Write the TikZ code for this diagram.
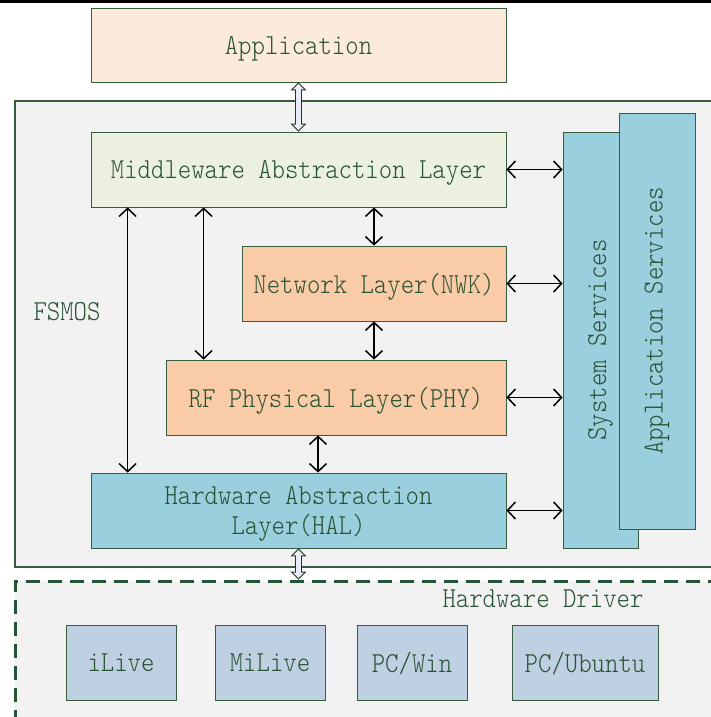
\documentclass[tikz,border=0pt]{standalone}
\usepackage{fontspec}
\usepackage{graphicx}
\newfontfamily\diagfont[FakeStretch=0.88]{lmmonolt10-regular.otf}
\usetikzlibrary{arrows.meta,positioning}
\definecolor{txtgreen}{RGB}{40,82,52}
\definecolor{edgegreen}{RGB}{56,92,62}
\definecolor{dashgreen}{RGB}{38,84,56}
\definecolor{appfill}{RGB}{252,234,219}
\definecolor{midfill}{RGB}{235,240,223}
\definecolor{orangefill}{RGB}{250,203,167}
\definecolor{bluefill}{RGB}{154,207,221}
\definecolor{grayfill}{RGB}{242,242,242}
\definecolor{drvfill}{RGB}{190,208,226}
\definecolor{hollowfill}{RGB}{232,237,245}

\begin{document}
\begin{tikzpicture}[x=1pt, y=-1pt,
  font=\diagfont\fontsize{29}{30}\selectfont, text=txtgreen,
  layer/.style={draw=edgegreen, line width=0.8pt, inner sep=0pt, text depth=0pt,
                minimum height=75pt, align=center, fill=#1},
  layer/.default=white,
  frame/.style={draw=edgegreen, line width=1.2pt, fill=grayfill, inner sep=0pt},
  dbl/.style={{Straight Barb[length=8pt,width=17pt]}-{Straight Barb[length=8pt,width=17pt]},
              line width=1.5pt, black},
  hollow/.style={draw=edgegreen!60!black, line width=7pt,
                 {Triangle[length=8pt,width=16pt,line width=0pt]}-{Triangle[length=8pt,width=16pt,line width=0pt]},
                 postaction={draw=hollowfill, line width=5pt, shorten <=1.4pt, shorten >=1.4pt,
                 arrows={Triangle[length=5.6pt,width=11.2pt,line width=0pt]-Triangle[length=5.6pt,width=11.2pt,line width=0pt]}}}]
\useasboundingbox (0,0) rectangle (711,717);
\draw[line width=3.5pt] (0,1.75) -- (711,1.75);

% application on top
\node[layer=appfill, minimum width=415pt, minimum height=74pt] (app) at (298.5,45) {Application};

% FSMOS frame
\node[frame, minimum width=701pt, minimum height=466pt] (os) at (365.5,334) {};
\node[anchor=west] (oslabel) at (30,312) {FSMOS};
\node[layer=midfill, minimum width=415pt] (mid) at (298.5,169.5) {Middleware Abstraction Layer};
\node[layer=orangefill, minimum width=264pt] (nwk) at (374,283.5) {Network Layer(NWK)};
\node[layer=orangefill, minimum width=340pt] (phy) at (336,397.5) {RF Physical Layer(PHY)};
\node[layer=bluefill, minimum width=415pt] (hal) at (298.5,510.5) {Hardware Abstraction\\Layer(HAL)};
\node[layer=bluefill, minimum width=75pt, minimum height=416pt] (sys) at (600.5,340) {\rotatebox{90}{System Services}};
\node[layer=bluefill, minimum width=76pt, minimum height=416pt] (appsvc) at (657,321) {\rotatebox{90}{Application Services}};

% hardware driver
\node[frame, draw=dashgreen, line width=3pt, dash pattern=on 14pt off 8pt,
      minimum width=701pt, minimum height=141pt] (drv) at (365.5,651.5) {};
\node[anchor=east] (drvlabel) at (647,599) {Hardware Driver};
\node[layer=drvfill, minimum width=110pt] (ilive) at (121,662.5) {iLive};
\node[layer=drvfill, minimum width=110pt] (milive) at (270,662.5) {MiLive};
\node[layer=drvfill, minimum width=110pt] (pcwin) at (412,662.5) {PC/Win};
\node[layer=drvfill, minimum width=146pt] (pcubuntu) at (585,662.5) {PC/Ubuntu};

% connectors
\draw[dbl] (mid.east) -- (mid.east -| sys.west);
\draw[dbl] (nwk.east) -- (nwk.east -| sys.west);
\draw[dbl] (phy.east) -- (phy.east -| sys.west);
\draw[dbl] (hal.east) -- (hal.east -| sys.west);
\draw[dbl] ([xshift=37pt]hal.north west) -- ([xshift=37pt]mid.south west);
\draw[dbl] ([xshift=38pt]phy.north west) -- ([xshift=38pt]phy.north west |- mid.south);
\draw[dbl] (nwk.north) -- (nwk.north |- mid.south);
\draw[dbl] (nwk.south) -- (nwk.south |- phy.north);
\draw[dbl] ([xshift=-18pt]phy.south) -- ([xshift=-18pt]phy.south |- hal.north);
\draw[hollow] (app.south) -- (mid.north);
\draw[hollow] (hal.south) -- (hal.south |- drv.north);
\end{tikzpicture}
\end{document}
